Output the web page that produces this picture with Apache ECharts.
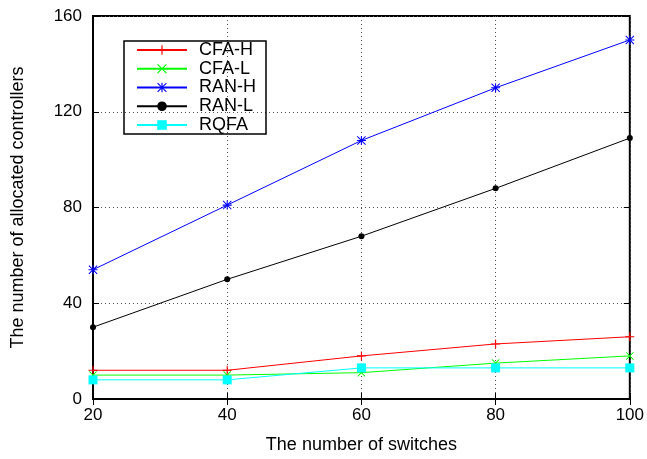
<!DOCTYPE html>
<html>
<head>
<meta charset="utf-8">
<script src="https://cdn.jsdelivr.net/npm/echarts@6/dist/echarts.min.js"></script>
<style>
html,body{margin:0;padding:0;background:#fff;}
#main{width:647px;height:459px;}
</style>
</head>
<body>
<div id="main"></div>
<script>
// 数据
var switches = [20, 40, 60, 80, 100];
var cfaH = [12, 12, 18, 23, 26];
var cfaL = [10, 10, 11, 15, 18];
var ranH = [54, 81, 108, 130, 150];
var ranL = [30, 50, 68, 88, 109];
var rqfa = [8, 8, 13, 13, 13];
var yTicks = [0, 40, 80, 120, 160];

// 符号形状
var plusPath = 'path://M4.4,0h1.2v4.4h4.4v1.2h-4.4v4.4h-1.2v-4.4h-4.4v-1.2h4.4z';
var crossPath = 'path://M0,0.8L0.8,0L10,9.2L9.2,10z M9.2,0L10,0.8L0.8,10L0,9.2z';
var starPath = 'path://M0,0.8L0.8,0L10,9.2L9.2,10z M9.2,0L10,0.8L0.8,10L0,9.2z M4.4,0h1.2v10h-1.2z M0,4.4h10v1.2h-10z';

var font = '"Liberation Sans", Arial, sans-serif';

function mk(name, data, color, symbol, size){
    return {
        name: name,
        type: 'line',
        data: switches.map(function(x, i){ return [x, data[i]]; }),
        symbol: symbol,
        symbolSize: size,
        showAllSymbol: true,
        lineStyle: {color: color, width: 1},
        itemStyle: {color: color, borderWidth: 0}
    };
}

var myChart = echarts.init(document.getElementById('main'));

var tickBase = {
    show: true, inside: true, length: 6,
    lineStyle: {color: '#000', width: 1}
};

myChart.setOption({
    animation: false,
    textStyle: {fontFamily: font},
    grid: {
        left: 93, right: 17, top: 16, bottom: 58,
        show: true, borderColor: '#000', borderWidth: 2
    },
    legend: {
        left: 124, top: 41,
        orient: 'vertical',
        itemWidth: 50, itemHeight: 12,
        itemGap: 0.75,
        padding: [0, 10, 0, 12],
        borderColor: '#000', borderWidth: 1.5,
        textStyle: {fontSize: 18, color: '#000', lineHeight: 18, padding: [0, 0, 0, 7], fontFamily: font},
        data: ['CFA-H', 'CFA-L', 'RAN-H', 'RAN-L', 'RQFA']
    },
    xAxis: [{
        type: 'value',
        min: 20, max: 100, interval: 20,
        name: 'The number of switches',
        nameLocation: 'middle', nameGap: 37,
        nameTextStyle: {fontSize: 18, color: '#000', fontFamily: font},
        axisLine: {show: true, lineStyle: {color: '#000', width: 2}},
        axisTick: tickBase,
        axisLabel: {fontSize: 17, color: '#000', margin: 8, fontFamily: font},
        splitLine: {show: true, lineStyle: {color: '#555', type: [1, 3], width: 1}}
    }, {
        type: 'value', position: 'top',
        min: 20, max: 100, interval: 20,
        axisLine: {show: false},
        axisTick: tickBase,
        axisLabel: {show: false},
        splitLine: {show: false}
    }],
    yAxis: [{
        type: 'value',
        min: yTicks[0], max: yTicks[yTicks.length - 1], interval: 40,
        name: 'The number of allocated controllers',
        nameLocation: 'middle', nameGap: 66,
        nameTextStyle: {fontSize: 18, color: '#000', fontFamily: font},
        axisLine: {show: true, lineStyle: {color: '#000', width: 2}},
        axisTick: tickBase,
        axisLabel: {fontSize: 17, color: '#000', margin: 11, fontFamily: font},
        splitLine: {show: true, lineStyle: {color: '#555', type: [1, 3], width: 1}}
    }, {
        type: 'value', position: 'right',
        min: yTicks[0], max: yTicks[yTicks.length - 1], interval: 40,
        axisLine: {show: false},
        axisTick: tickBase,
        axisLabel: {show: false},
        splitLine: {show: false}
    }],
    series: [
        mk('CFA-H', cfaH, '#ff0000', plusPath, 9),
        mk('CFA-L', cfaL, '#00ff00', crossPath, 8),
        mk('RAN-H', ranH, '#0000ff', starPath, 9),
        mk('RAN-L', ranL, '#000000', 'circle', 6),
        mk('RQFA', rqfa, '#00ffff', 'rect', 9)
    ]
});
</script>
</body>
</html>
